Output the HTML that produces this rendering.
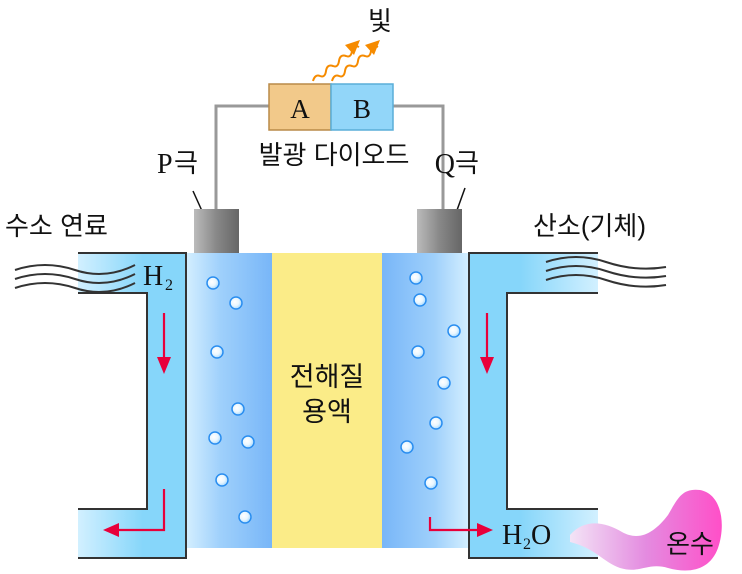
<!DOCTYPE html>
<html><head><meta charset="utf-8"><style>
html,body{margin:0;padding:0;background:#fff;}
svg{display:block;}
text{font-family:"Liberation Sans","Noto Sans CJK KR",sans-serif;fill:#111;}
.s{font-family:"Liberation Serif","Noto Sans CJK KR",serif;}
</style></head><body>
<svg width="742" height="574" viewBox="0 0 742 574" xmlns="http://www.w3.org/2000/svg">
<defs>
<linearGradient id="lb" x1="0" x2="1"><stop offset="0" stop-color="#d4efff"/><stop offset="0.4" stop-color="#9fd0fb"/><stop offset="1" stop-color="#78b6f8"/></linearGradient>
<linearGradient id="rb" x1="0" x2="1"><stop offset="0" stop-color="#78b6f8"/><stop offset="0.6" stop-color="#9fd0fb"/><stop offset="1" stop-color="#d4efff"/></linearGradient>
<linearGradient id="pl" x1="0" x2="1"><stop offset="0" stop-color="#d2f0ff"/><stop offset="0.6" stop-color="#86d6fa"/><stop offset="1" stop-color="#86d6fa"/></linearGradient>
<linearGradient id="pr" x1="0" x2="1"><stop offset="0" stop-color="#86d6fa"/><stop offset="0.4" stop-color="#86d6fa"/><stop offset="1" stop-color="#d2f0ff"/></linearGradient>
<linearGradient id="el" x1="0" x2="1"><stop offset="0" stop-color="#bbb"/><stop offset="0.5" stop-color="#888"/><stop offset="1" stop-color="#666"/></linearGradient>
<linearGradient id="pk" x1="0" x2="1"><stop offset="0" stop-color="#f3e4f6"/><stop offset="0.5" stop-color="#e48be0"/><stop offset="1" stop-color="#ff4fc8"/></linearGradient>
<radialGradient id="bub" cx="0.4" cy="0.4"><stop offset="0" stop-color="#fff"/><stop offset="0.7" stop-color="#e8f6ff"/><stop offset="1" stop-color="#bfe4ff"/></radialGradient>
</defs>
<polyline points="216,209 216,106 269,106" fill="none" stroke="#999" stroke-width="3"/>
<polyline points="393,106 443,106 443,209" fill="none" stroke="#999" stroke-width="3"/>
<rect x="269" y="84" width="62" height="46" fill="#f2c98a" stroke="#b98a48" stroke-width="1.5"/>
<rect x="331" y="84" width="62" height="46" fill="#92d6f9" stroke="#5aaed8" stroke-width="1.5"/>
<text x="300" y="118" class="s" font-size="27" text-anchor="middle">A</text>
<text x="362" y="118" class="s" font-size="27" text-anchor="middle">B</text>
<text x="334" y="164" font-size="26" text-anchor="middle">발광 다이오드</text>
<path d="M313,81 q2,-7 7,-5 q5,2 6,-5 q1,-7 7,-5 q5,2 6,-5 q1,-7 7,-5 q5,2 6,-5 q1,-7 7,-4" fill="none" stroke="#f68b00" stroke-width="2"/>
<polygon points="360,40 345,45 354,55" fill="#f68b00"/>
<path d="M332,81 q2,-7 7,-5 q5,2 6,-5 q1,-7 7,-5 q5,2 6,-5 q1,-7 7,-5 q5,2 6,-5 q1,-7 7,-4" fill="none" stroke="#f68b00" stroke-width="2"/>
<polygon points="380,40 365,45 374,55" fill="#f68b00"/>
<text x="380" y="30" font-size="26" text-anchor="middle">빛</text>
<text x="157" y="173" class="s" font-size="28">P</text><text x="174" y="172" font-size="26">극</text>
<text x="455" y="173" class="s" font-size="28" text-anchor="end">Q</text><text x="455" y="172" font-size="26">극</text>
<line x1="193" y1="191" x2="207" y2="222" stroke="#111" stroke-width="1.5"/>
<line x1="465" y1="188" x2="452" y2="224" stroke="#111" stroke-width="1.5"/>
<text x="5" y="235" font-size="26">수소 연료</text>
<text x="533" y="235" font-size="26">산소(기체)</text>
<rect x="194" y="209" width="45" height="44" fill="url(#el)"/>
<rect x="417" y="209" width="45" height="44" fill="url(#el)"/>
<rect x="186" y="253" width="86" height="295" fill="url(#lb)"/>
<rect x="272" y="253" width="110" height="295" fill="#fbec88"/>
<rect x="382" y="253" width="87" height="295" fill="url(#rb)"/>
<text x="327" y="386" font-size="27" text-anchor="middle">전해질</text>
<text x="327" y="421" font-size="27" text-anchor="middle">용액</text>
<path d="M78,253 H186 V558 H78 V509 H147 V293 H78 Z" fill="url(#pl)"/>
<polyline points="78,253 186,253 186,558 78,558" fill="none" stroke="#333" stroke-width="2"/>
<polyline points="78,293 147,293 147,509 78,509" fill="none" stroke="#333" stroke-width="2"/>
<path d="M598,253 H469 V558 H598 V509 H507 V293 H598 Z" fill="url(#pr)"/>
<polyline points="598,253 469,253 469,558 598,558" fill="none" stroke="#333" stroke-width="2"/>
<polyline points="598,293 507,293 507,509 598,509" fill="none" stroke="#333" stroke-width="2"/>
<g fill="none" stroke="#333" stroke-width="2">
<path d="M15,270 q30,-10 60,0 t60,-5"/><path d="M15,279 q30,-10 60,0 t60,-5"/><path d="M15,288 q30,-10 60,0 t60,-5"/>
<path d="M546,262 q30,-10 60,0 t60,5"/><path d="M546,271 q30,-10 60,0 t60,5"/><path d="M546,280 q30,-10 60,0 t60,5"/>
</g>
<text x="143" y="285" class="s" font-size="28">H</text><text x="165" y="290" class="s" font-size="16">2</text>
<g stroke="#e8003a" stroke-width="2.2" fill="none">
<line x1="164" y1="313" x2="164" y2="365"/>
<polyline points="164,489 164,530 112,530"/>
<line x1="487" y1="313" x2="487" y2="365"/>
<polyline points="430,517 430,530 484,530"/>
</g>
<g fill="#e8003a">
<polygon points="157,357 171,357 164,374"/>
<polygon points="103,530 119,523 119,537"/>
<polygon points="480,357 494,357 487,374"/>
<polygon points="493,530 477,523 477,537"/>
</g>
<g fill="url(#bub)" stroke="#2a8ef0" stroke-width="1.5">
<circle cx="213" cy="283" r="6"/><circle cx="236" cy="303" r="6"/><circle cx="217" cy="352" r="6"/><circle cx="238" cy="409" r="6"/><circle cx="215" cy="438" r="6"/><circle cx="248" cy="442" r="6"/><circle cx="222" cy="480" r="6"/><circle cx="245" cy="517" r="6"/>
<circle cx="416" cy="278" r="6"/><circle cx="420" cy="300" r="6"/><circle cx="454" cy="331" r="6"/><circle cx="418" cy="352" r="6"/><circle cx="444" cy="383" r="6"/><circle cx="436" cy="423" r="6"/><circle cx="407" cy="447" r="6"/><circle cx="431" cy="483" r="6"/>
</g>
<text x="502" y="544" class="s" font-size="28">H</text><text x="523" y="549" class="s" font-size="16">2</text><text x="531" y="544" class="s" font-size="28">O</text>
<path d="M570,535 C585,518 605,522 622,532 C640,542 655,532 668,515 C678,498 682,488 700,490 C722,494 726,525 718,548 C710,570 690,574 668,568 C648,562 640,574 620,568 C603,562 595,548 570,542 Z" fill="url(#pk)"/>
<text x="690" y="553" font-size="26" text-anchor="middle">온수</text>
</svg>
</body></html>
